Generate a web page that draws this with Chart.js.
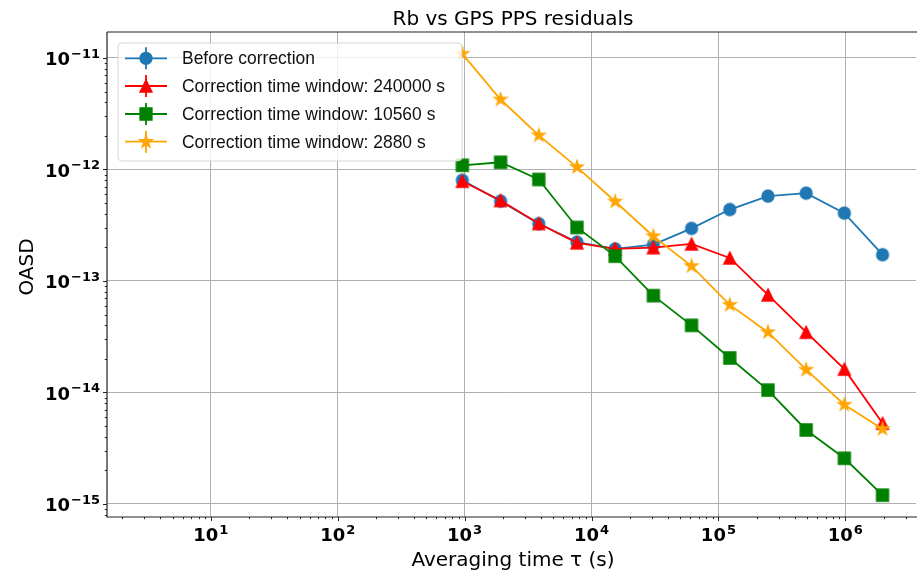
<!DOCTYPE html>
<html>
<head>
<meta charset="utf-8">
<script src="https://cdn.jsdelivr.net/npm/chart.js@4"></script>
<style>
  html, body { margin: 0; padding: 0; background: #fff; overflow: hidden; }
  body { width: 917px; height: 574px; }
</style>
</head>
<body>
<canvas id="chart" width="925" height="574"></canvas>
<script>
// averaging times (s)
const tau = [960, 1920, 3840, 7680, 15360, 30720, 61440, 122880, 245760, 491520, 983040, 1966080];

// OASD values
const beforeCorr = [8.0e-13, 5.2e-13, 3.26e-13, 2.23e-13, 1.94e-13, 2.12e-13, 2.96e-13, 4.37e-13, 5.77e-13, 6.13e-13, 4.06e-13, 1.72e-13];
const corr240000 = [7.85e-13, 5.27e-13, 3.28e-13, 2.2e-13, 1.94e-13, 1.99e-13, 2.15e-13, 1.61e-13, 7.5e-14, 3.47e-14, 1.62e-14, 5.3e-15];
const corr10560 = [1.09e-12, 1.16e-12, 8.13e-13, 3.02e-13, 1.67e-13, 7.38e-14, 4.0e-14, 2.04e-14, 1.05e-14, 4.61e-15, 2.57e-15, 1.2e-15];
const corr2880 = [1.09e-11, 4.24e-12, 2.02e-12, 1.05e-12, 5.16e-13, 2.52e-13, 1.36e-13, 6.1e-14, 3.47e-14, 1.6e-14, 7.76e-15, 4.7e-15];

const seriesLabels = [
  "Before correction",
  "Correction time window: 240000 s",
  "Correction time window: 10560 s",
  "Correction time window: 2880 s"
];

// decade exponents used for ticks / grid
const xDecades = [1, 2, 3, 4, 5, 6];
const yDecades = [-15, -14, -13, -12, -11];

const colors = ["#1f77b4", "#ff0000", "#008000", "#ffa500"];
const shapes = ["circle", "triangle", "square", "star"];

// marker drawing (matplotlib-like, markersize 12px)
function markerPath(ctx, shape, cx, cy, h) {
  ctx.beginPath();
  if (shape === "circle") {
    ctx.arc(cx, cy, h, 0, Math.PI * 2);
  } else if (shape === "triangle") {
    ctx.moveTo(cx, cy - h);
    ctx.lineTo(cx - h, cy + h);
    ctx.lineTo(cx + h, cy + h);
    ctx.closePath();
  } else if (shape === "square") {
    ctx.rect(cx - h, cy - h, 2 * h, 2 * h);
  } else {
    const inner = h * 0.381966;
    for (let i = 0; i < 10; i++) {
      const r = i % 2 ? inner : h;
      const ang = -Math.PI / 2 + i * Math.PI / 5;
      const px = cx + r * Math.cos(ang), py = cy + r * Math.sin(ang);
      i ? ctx.lineTo(px, py) : ctx.moveTo(px, py);
    }
    ctx.closePath();
  }
}

function drawMarker(ctx, shape, color, cx, cy) {
  const h = shape === "star" ? 6.6 : 6;
  markerPath(ctx, shape, cx, cy, h);
  ctx.fillStyle = color;
  ctx.fill();
  ctx.lineWidth = 1.3;
  ctx.strokeStyle = color;
  ctx.lineJoin = "miter";
  ctx.stroke();
}

function markerImage(shape, color) {
  const c = document.createElement("canvas");
  c.width = 18; c.height = 18;
  drawMarker(c.getContext("2d"), shape, color, 9, 9);
  return c;
}

const datasets = [beforeCorr, corr240000, corr10560, corr2880].map((vals, i) => ({
  label: seriesLabels[i],
  data: tau.map((t, k) => ({ x: t, y: vals[k] })),
  borderColor: colors[i],
  backgroundColor: colors[i],
  borderWidth: 1.8,
  pointStyle: markerImage(shapes[i], colors[i]),
  pointRadius: 7,
  pointHoverRadius: 7,
  tension: 0,
  order: 3 - i
}));

function drawPow(ctx, exp, x, baseline, align) {
  const baseFont = "bold 18px 'DejaVu Sans'";
  const expFont = "bold 13px 'DejaVu Sans'";
  const expStr = exp < 0 ? "\u2212" + Math.abs(exp) : String(exp);
  ctx.font = baseFont;
  const bw = ctx.measureText("10").width;
  ctx.font = expFont;
  const ew = ctx.measureText(expStr).width;
  const total = bw + ew + 1;
  let start = align === "right" ? x - total : x - total / 2;
  ctx.textAlign = "left";
  ctx.textBaseline = "alphabetic";
  ctx.fillStyle = "#000";
  ctx.font = baseFont;
  ctx.fillText("10", start, baseline);
  ctx.font = expFont;
  ctx.fillText(expStr, start + bw + 1, baseline - 7.5);
}

const decor = {
  id: "decor",
  afterDraw(chart) {
    const { ctx, chartArea: a, scales: { x, y } } = chart;
    ctx.save();

    // spines
    ctx.strokeStyle = "#222";
    ctx.lineWidth = 1.2;
    ctx.beginPath();
    ctx.moveTo(a.left, a.top); ctx.lineTo(a.right + 2, a.top);
    ctx.moveTo(a.left, a.top); ctx.lineTo(a.left, a.bottom);
    ctx.lineTo(a.right + 2, a.bottom);
    ctx.stroke();

    // ticks
    ctx.lineWidth = 1;
    ctx.beginPath();
    for (let e = 0; e <= 6; e++) {
      for (let m = 1; m <= 9; m++) {
        const v = m * Math.pow(10, e);
        if (v < x.min || v > x.max) continue;
        const px = Math.round(x.getPixelForValue(v)) + 0.5;
        const len = m === 1 ? 4 : 2.2;
        ctx.moveTo(px, a.bottom); ctx.lineTo(px, a.bottom + len);
      }
    }
    for (let e = -16; e <= -11; e++) {
      for (let m = 1; m <= 9; m++) {
        const v = m * Math.pow(10, e);
        if (v < y.min || v > y.max) continue;
        const py = Math.round(y.getPixelForValue(v)) + 0.5;
        const len = m === 1 ? 4 : 2.2;
        ctx.moveTo(a.left, py); ctx.lineTo(a.left - len, py);
      }
    }
    ctx.stroke();

    // tick labels
    xDecades.forEach(e => drawPow(ctx, e, x.getPixelForValue(Math.pow(10, e)), 541, "center"));
    yDecades.forEach(e => drawPow(ctx, e, 100, y.getPixelForValue(Math.pow(10, e)) + 7.5, "right"));

    // axis titles and title
    ctx.fillStyle = "#000";
    ctx.font = "20px 'DejaVu Sans'";
    ctx.textAlign = "center";
    ctx.textBaseline = "alphabetic";
    ctx.fillText("Averaging time \u03c4 (s)", 513, 566);
    ctx.fillText("Rb vs GPS PPS residuals", 513, 25);
    ctx.save();
    ctx.translate(33, 267);
    ctx.rotate(-Math.PI / 2);
    ctx.fillText("OASD", 0, 0);
    ctx.restore();

    // legend
    const lx = 118, ly = 43, lw = 344, lh = 118;
    ctx.beginPath();
    ctx.roundRect(lx, ly, lw, lh, 4);
    ctx.fillStyle = "rgba(255,255,255,0.8)";
    ctx.fill();
    ctx.strokeStyle = "rgba(204,204,204,0.8)";
    ctx.lineWidth = 1;
    ctx.stroke();

    const rows = [58.3, 86, 114, 141.7];
    ctx.font = "19px 'Liberation Sans Narrow', 'Liberation Sans'";
    const sx = 133 / ctx.measureText(seriesLabels[0]).width;
    seriesLabels.forEach((lab, i) => {
      const ry = rows[i];
      ctx.strokeStyle = colors[i];
      ctx.lineWidth = 1.8;
      ctx.beginPath();
      ctx.moveTo(125, ry); ctx.lineTo(167, ry);
      ctx.moveTo(146, ry - 11); ctx.lineTo(146, ry + 11);
      ctx.stroke();
      drawMarker(ctx, shapes[i], colors[i], 146, ry);
      ctx.save();
      ctx.translate(182, ry + 6);
      ctx.scale(sx, 1);
      ctx.fillStyle = "#111";
      ctx.textAlign = "left";
      ctx.font = "19px 'Liberation Sans Narrow', 'Liberation Sans'";
      ctx.fillText(lab, 0, 0);
      ctx.restore();
    });

    ctx.restore();
  }
};

new Chart(document.getElementById("chart"), {
  type: "line",
  data: { datasets },
  options: {
    responsive: false,
    animation: false,
    devicePixelRatio: 1,
    layout: { padding: { left: 107, top: 32, right: 0, bottom: 57 } },
    plugins: { legend: { display: false }, title: { display: false }, tooltip: { enabled: false } },
    scales: {
      x: {
        type: "logarithmic",
        min: 1.52,
        max: 3.62e6,
        afterBuildTicks: ax => { ax.ticks = xDecades.map(e => ({ value: Math.pow(10, e) })); },
        ticks: { display: false },
        grid: { color: "#b0b0b0", lineWidth: 1, drawTicks: false },
        border: { display: false }
      },
      y: {
        type: "logarithmic",
        min: 7.64e-16,
        max: 1.71e-11,
        afterBuildTicks: ax => { ax.ticks = yDecades.map(e => ({ value: Math.pow(10, e) })); },
        ticks: { display: false },
        grid: { color: "#b0b0b0", lineWidth: 1, drawTicks: false },
        border: { display: false }
      }
    }
  },
  plugins: [decor]
});
</script>
</body>
</html>
